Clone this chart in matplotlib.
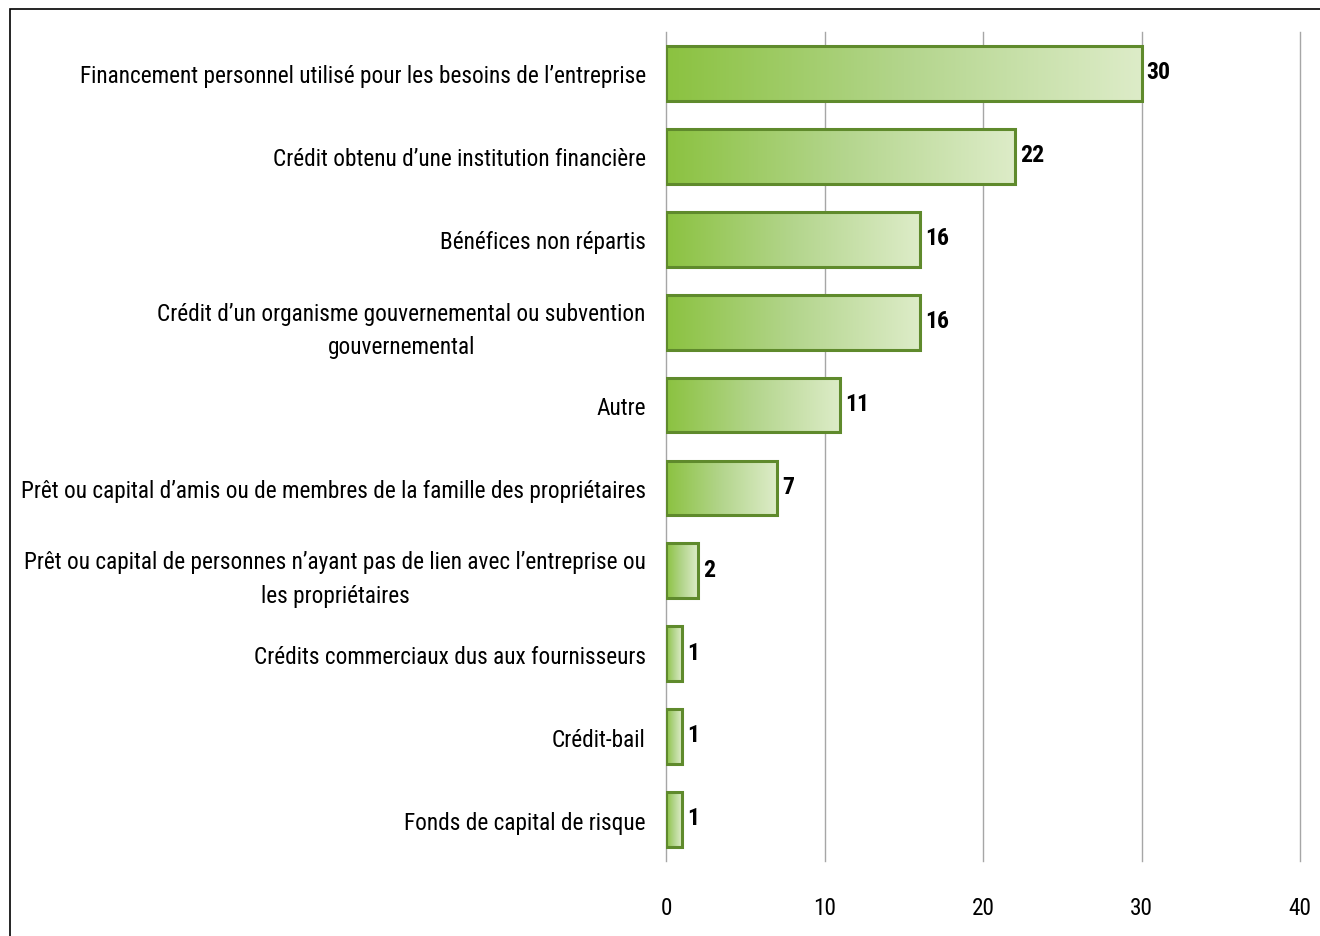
import numpy as np
import matplotlib
matplotlib.use("Agg")
import matplotlib.pyplot as plt
from matplotlib import font_manager as fm
from matplotlib.colors import LinearSegmentedColormap
from matplotlib.patches import Rectangle
from matplotlib.font_manager import FontProperties

categories = [
    "Financement personnel utilisé pour les besoins de l’entreprise",
    "Crédit obtenu d’une institution financière",
    "Bénéfices non répartis",
    "Crédit d’un organisme gouvernemental ou subvention\ngouvernemental",
    "Autre",
    "Prêt ou capital d’amis ou de membres de la famille des propriétaires",
    "Prêt ou capital de personnes n’ayant pas de lien avec l’entreprise ou\nles propriétaires",
    "Crédits commerciaux dus aux fournisseurs",
    "Crédit-bail",
    "Fonds de capital de risque",
]
values = [30, 22, 16, 16, 11, 7, 2, 1, 1, 1]
xticks = [0, 10, 20, 30, 40]


def pick_font(bold=False):
    cands = []
    for f in fm.fontManager.ttflist:
        fn = f.fname.lower()
        if ("narrow" in fn or "condensed" in fn) and "semi" not in fn and "extra" not in fn \
                and "light" not in fn and "thin" not in fn and "medium" not in fn and "black" not in fn:
            w = f.weight if isinstance(f.weight, int) else (700 if "bold" in str(f.weight) else 400)
            isbold = w >= 600 or "bold" in fn
            isital = "italic" in fn or "oblique" in fn
            if isbold == bold and not isital:
                rank = 0 if "liberation" in fn else (1 if "roboto" in fn else (2 if "dejavu" in fn else 3))
                cands.append((rank, f.fname))
    if cands:
        cands.sort()
        return FontProperties(fname=cands[0][1])
    return FontProperties(family="DejaVu Sans", weight="bold" if bold else "normal")


fp = pick_font(False)
fpb = pick_font(True)

fig = plt.figure(figsize=(13.2, 9.37), dpi=100)
ax = fig.add_axes([666/1320, 1-862/937, (1300-666)/1320, (862-33)/937])

cmap = LinearSegmentedColormap.from_list("g", ["#8BC240", "#B3D58C", "#DDECC8"])
grad = np.linspace(0, 1, 256).reshape(1, -1)
h = 0.66
vals_txt = []
for i, v in enumerate(values):
    ax.imshow(grad, cmap=cmap, aspect="auto", extent=[0, v, i + h/2, i - h/2],
              zorder=2, interpolation="bicubic")
    ax.add_patch(Rectangle((0, i - h/2), v, h, fill=False, edgecolor="#5F8A2C",
                           linewidth=2.2, zorder=3))
    t = ax.text(v + 0.33, i - 0.02, str(v), va="center", ha="left",
                fontproperties=fpb, fontsize=14, color="#000000")
    vals_txt.append(t)

ax.set_xlim(0, 40)
ax.set_ylim(9.5, -0.5)
ax.set_xticks(xticks)
ax.set_yticks(range(len(categories)))
ax.set_yticklabels(categories)
ax.tick_params(axis="y", length=0, pad=14.5)
ax.tick_params(axis="x", length=0, pad=25)
ax.grid(axis="x", color="#A6A6A6", linewidth=1, zorder=0)
ax.set_axisbelow(True)
for gl in ax.get_xgridlines():
    gl.set_clip_on(False)
for s in ax.spines.values():
    s.set_visible(False)

size = 16
for lab in ax.get_yticklabels():
    lab.set_fontproperties(fp)
    lab.set_fontsize(size)
    lab.set_ha("right")
    lab.set_multialignment("center")
    lab.set_linespacing(1.6)
    lab.set_color("#000000")
for lab in ax.get_xticklabels():
    lab.set_fontproperties(fp)
    lab.set_fontsize(size)

# fit the label font size to the reference width of the first label (569 px)
fig.canvas.draw()
r = fig.canvas.get_renderer()
w0 = ax.get_yticklabels()[0].get_window_extent(r).width
size = size * 569.0 / w0
for lab in ax.get_yticklabels() + ax.get_xticklabels():
    lab.set_fontsize(size)
for t in vals_txt:
    t.set_fontsize(size * 1.02)

fig.add_artist(Rectangle((10/1320, -0.05), 1.2, 1 - 10/937 + 0.05, transform=fig.transFigure,
                         fill=False, edgecolor="#000000", linewidth=1.2))
fig.savefig("out.png", dpi=100)
